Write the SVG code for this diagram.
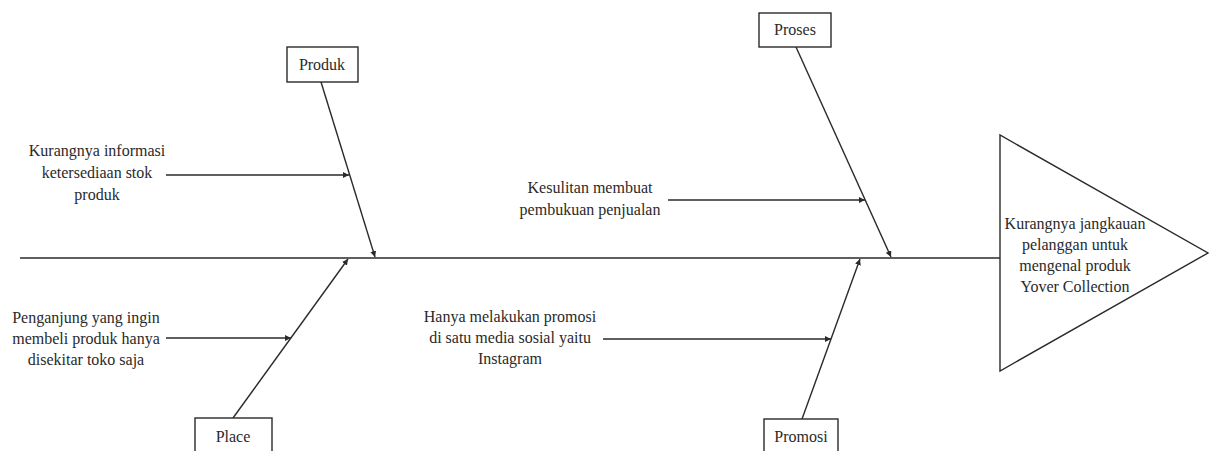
<svg xmlns="http://www.w3.org/2000/svg" width="1216" height="451" viewBox="0 0 1216 451">
<style>
  .ln { stroke: #2a2a2a; stroke-width: 1.4; fill: none; }
  .box { stroke: #2a2a2a; stroke-width: 1.4; fill: #ffffff; }
  .t { font-family: "Liberation Serif", "Times New Roman", serif; font-size: 16px; fill: #2a2a2a; text-anchor: middle; }
</style>
<defs>
  <marker id="ah" markerUnits="userSpaceOnUse" markerWidth="7" markerHeight="6" refX="6" refY="3" orient="auto">
    <path d="M0,0 L6,3 L0,6 z" fill="#2a2a2a"/>
  </marker>
</defs>
<rect width="1216" height="451" fill="#ffffff"/>
<g id="connectors">
  <line class="ln" x1="20" y1="258" x2="1000" y2="258"/>
  <line class="ln" x1="321" y1="82" x2="375" y2="257" marker-end="url(#ah)"/>
  <line class="ln" x1="796" y1="47" x2="891" y2="257" marker-end="url(#ah)"/>
  <line class="ln" x1="233" y1="418" x2="348" y2="259" marker-end="url(#ah)"/>
  <line class="ln" x1="802" y1="419" x2="860" y2="259" marker-end="url(#ah)"/>
  <line class="ln" x1="166" y1="175" x2="349" y2="175" marker-end="url(#ah)"/>
  <line class="ln" x1="668" y1="200" x2="865" y2="200" marker-end="url(#ah)"/>
  <line class="ln" x1="166" y1="338" x2="291" y2="338" marker-end="url(#ah)"/>
  <line class="ln" x1="603" y1="339" x2="831" y2="339" marker-end="url(#ah)"/>
</g>
<g id="effect">
  <polygon class="box" points="1000,135 1000,371 1208,253"/>
  <text class="t"><tspan x="1075" y="229">Kurangnya jangkauan</tspan><tspan x="1075" y="250">pelanggan untuk</tspan><tspan x="1075" y="271">mengenal produk</tspan><tspan x="1075" y="292">Yover Collection</tspan></text>
</g>
<g id="produk">
  <rect class="box" x="287" y="47" width="71" height="35"/>
  <text class="t" x="322" y="70">Produk</text>
</g>
<g id="proses">
  <rect class="box" x="759" y="13" width="72" height="34"/>
  <text class="t" x="795" y="35">Proses</text>
</g>
<g id="place">
  <rect class="box" x="195" y="418" width="77" height="40"/>
  <text class="t" x="233" y="442">Place</text>
</g>
<g id="promosi">
  <rect class="box" x="764" y="419" width="74" height="40"/>
  <text class="t" x="801" y="442">Promosi</text>
</g>
<g id="cause-produk">
  <text class="t"><tspan x="97" y="156">Kurangnya informasi</tspan><tspan x="97" y="178">ketersediaan stok</tspan><tspan x="97" y="200">produk</tspan></text>
</g>
<g id="cause-proses">
  <text class="t"><tspan x="590" y="193">Kesulitan membuat</tspan><tspan x="590" y="215">pembukuan penjualan</tspan></text>
</g>
<g id="cause-place">
  <text class="t"><tspan x="86" y="323">Penganjung yang ingin</tspan><tspan x="86" y="344">membeli produk hanya</tspan><tspan x="86" y="365">disekitar toko saja</tspan></text>
</g>
<g id="cause-promosi">
  <text class="t"><tspan x="510" y="322">Hanya melakukan promosi</tspan><tspan x="510" y="343">di satu media sosial yaitu</tspan><tspan x="510" y="364">Instagram</tspan></text>
</g>
</svg>
